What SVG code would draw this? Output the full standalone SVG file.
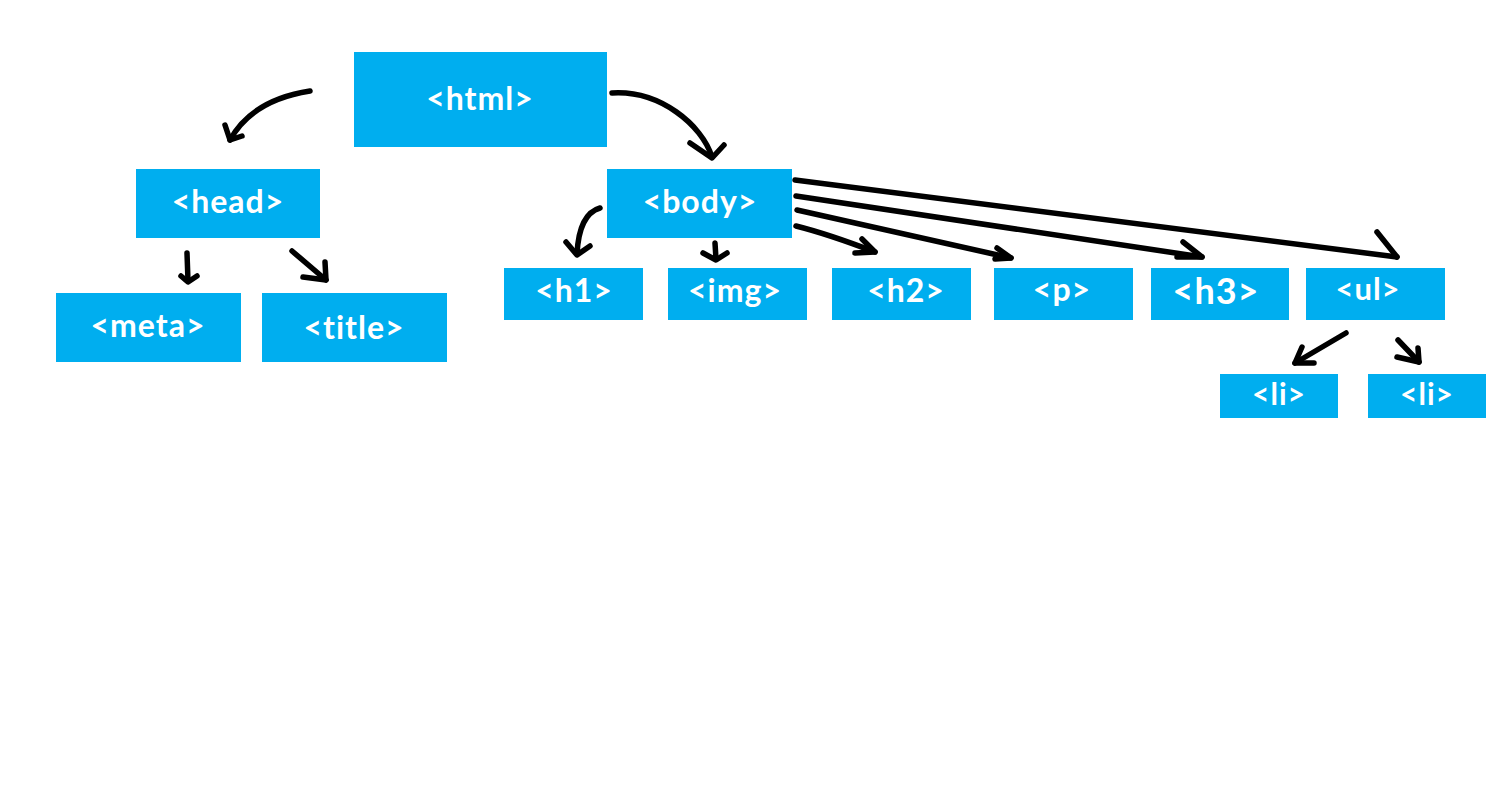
<svg xmlns="http://www.w3.org/2000/svg" width="1500" height="800" viewBox="0 0 1500 800">
<style>
.box{fill:#00AEEF}
.t{font-family:Lato,"Open Sans","Liberation Sans",sans-serif;font-weight:700;fill:#ffffff;text-anchor:middle;letter-spacing:1px}
.c{fill:none;stroke:#000;stroke-width:5.5;stroke-linecap:round;stroke-linejoin:round}
</style>
<rect width="1500" height="800" fill="#fff"/>
<g id="n-html"><rect class="box" x="354" y="52" width="253" height="95"/><text class="t" x="480" y="110" font-size="32">&lt;html&gt;</text></g>
<g id="n-head"><rect class="box" x="136" y="169" width="184" height="69"/><text class="t" x="228" y="213" font-size="32">&lt;head&gt;</text></g>
<g id="n-meta"><rect class="box" x="56" y="293" width="185" height="69"/><text class="t" x="148" y="337" font-size="32">&lt;meta&gt;</text></g>
<g id="n-title"><rect class="box" x="262" y="293" width="185" height="69"/><text class="t" x="354" y="339" font-size="32">&lt;title&gt;</text></g>
<g id="n-body"><rect class="box" x="607" y="169" width="185" height="69"/><text class="t" x="700" y="213" font-size="32">&lt;body&gt;</text></g>
<g id="n-h1"><rect class="box" x="504" y="268" width="139" height="52"/><text class="t" x="574" y="302" font-size="32">&lt;h1&gt;</text></g>
<g id="n-img"><rect class="box" x="668" y="268" width="139" height="52"/><text class="t" x="735" y="302" font-size="32">&lt;img&gt;</text></g>
<g id="n-h2"><rect class="box" x="832" y="268" width="139" height="52"/><text class="t" x="906" y="302" font-size="32">&lt;h2&gt;</text></g>
<g id="n-p"><rect class="box" x="994" y="268" width="139" height="52"/><text class="t" x="1062" y="301" font-size="32">&lt;p&gt;</text></g>
<g id="n-h3"><rect class="box" x="1151" y="268" width="138" height="52"/><text class="t" x="1216" y="304" font-size="36">&lt;h3&gt;</text></g>
<g id="n-ul"><rect class="box" x="1306" y="268" width="139" height="52"/><text class="t" x="1368" y="300" font-size="31">&lt;ul&gt;</text></g>
<g id="n-li1"><rect class="box" x="1220" y="374" width="118" height="44"/><text class="t" x="1279" y="405" font-size="30">&lt;li&gt;</text></g>
<g id="n-li2"><rect class="box" x="1368" y="374" width="118" height="44"/><text class="t" x="1427" y="405" font-size="30">&lt;li&gt;</text></g>
<g id="connectors">
<path class="c" d="M310,91 Q252,100 230,140"/>
<path class="c" d="M225,125 L230,140 L242,136"/>
<path class="c" d="M612,93 C660,90 702,125 712,157"/>
<path class="c" d="M690,143 L712,158 L724,145"/>
<path class="c" d="M187,253 L188,281"/>
<path class="c" d="M181,276 L188,282 L197,276"/>
<path class="c" d="M292,251 L326,280"/>
<path class="c" d="M303,277 L326,280 L325,262"/>
<path class="c" d="M600,208 Q579,214 577,254"/>
<path class="c" d="M566,242 L577,255 L590,246"/>
<path class="c" d="M715,243 L716,259"/>
<path class="c" d="M703,253 L716,260 L727,253"/>
<path class="c" d="M796,226 Q828,234 875,252"/>
<path class="c" d="M862,239 L875,252 L855,253"/>
<path class="c" d="M797,210 L1011,258"/>
<path class="c" d="M997,248 L1011,258 L995,259"/>
<path class="c" d="M796,196 L1202,257"/>
<path class="c" d="M1183,242 L1202,257 L1177,257"/>
<path class="c" d="M795,180 L1397,257"/>
<path class="c" d="M1377,232 L1397,257"/>
<path class="c" d="M1346,333 L1295,363"/>
<path class="c" d="M1302,347 L1295,363 L1314,363"/>
<path class="c" d="M1398,340 L1419,362"/>
<path class="c" d="M1418,348 L1419,362 L1397,357"/>
</g>
</svg>
